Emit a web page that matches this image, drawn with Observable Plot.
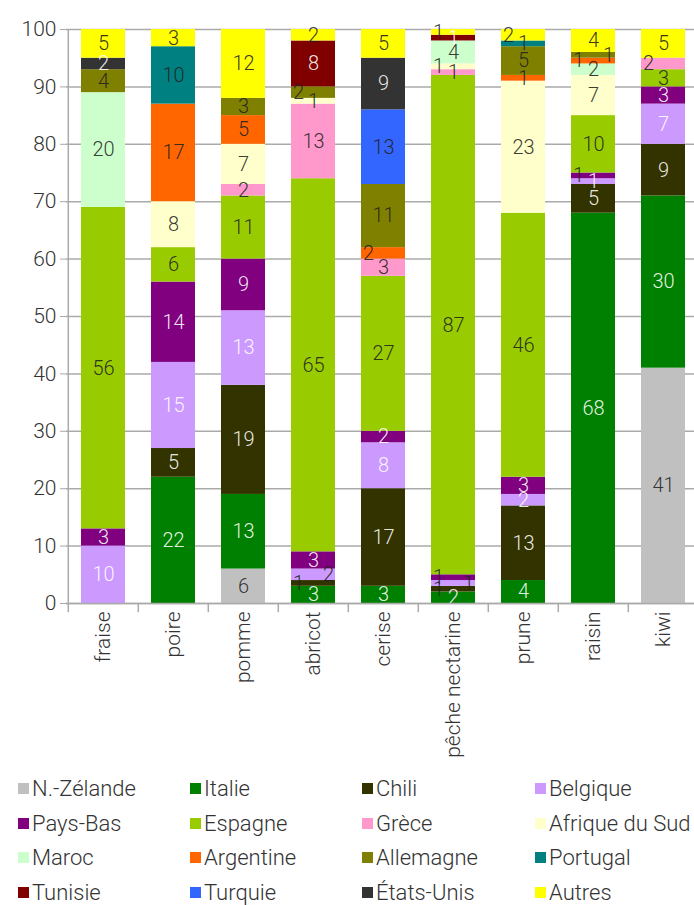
<!DOCTYPE html>
<html><head><meta charset="utf-8">
<script src="https://cdn.jsdelivr.net/npm/d3@7"></script>
<script src="https://cdn.jsdelivr.net/npm/@observablehq/plot@0.6"></script>
<style>
body{margin:0;background:#fff;font-family:Roboto,"DejaVu Sans",sans-serif;font-weight:300;overflow:hidden;}
#legend{position:relative;height:130px;}
.li{position:absolute;display:flex;align-items:center;font-size:22px;color:#333;white-space:nowrap;}
.sw{width:11px;height:11px;margin-right:3px;display:inline-block;}
</style></head>
<body><div id="chart"></div><div id="legend"></div>
<script>
const fruits = ["fraise","poire","pomme","abricot","cerise","pêche nectarine","prune","raisin","kiwi"];
const countries = ["N.-Zélande","Italie","Chili","Belgique","Pays-Bas","Espagne","Grèce","Afrique du Sud","Maroc","Argentine","Allemagne","Portugal","Tunisie","Turquie","États-Unis","Autres"];
const colors = ["#c0c0c0","#008000","#333300","#cc99ff","#800080","#99cc00","#ff99cc","#ffffcc","#ccffcc","#ff6600","#808000","#008080","#800000","#3366ff","#333333","#ffff00"];
const lightText = ["Italie","Chili","Belgique","Pays-Bas","Tunisie","États-Unis"];
// values per country, one entry per fruit (same order as fruits)
const nzelande   = [0,0,6,0,0,0,0,0,41];
const italie     = [0,22,13,3,3,2,4,68,30];
const chili      = [0,5,19,1,17,1,13,5,9];
const belgique   = [10,15,13,2,8,1,2,1,7];
const paysbas    = [3,14,9,3,2,1,3,1,3];
const espagne    = [56,6,11,65,27,87,46,10,3];
const grece      = [0,0,2,13,3,1,0,0,2];
const afriquesud = [0,8,7,1,0,1,23,7,0];
const maroc      = [20,0,0,0,0,4,0,2,0];
const argentine  = [0,17,5,0,2,0,1,1,0];
const allemagne  = [4,0,3,2,11,0,5,1,0];
const portugal   = [0,10,0,0,0,0,1,0,0];
const tunisie    = [0,0,0,8,0,1,0,0,0];
const turquie    = [0,0,0,0,13,0,0,0,0];
const etatsunis  = [2,0,0,0,9,0,0,0,0];
const autres     = [5,3,12,2,5,1,2,4,5];
const yTicks = [0,10,20,30,40,50,60,70,80,90,100];

const series = [nzelande,italie,chili,belgique,paysbas,espagne,grece,afriquesud,maroc,argentine,allemagne,portugal,tunisie,turquie,etatsunis,autres];
const rows = [];
fruits.forEach((f,i)=>{
  let prevSmall=false, side=1;
  countries.forEach((c,j)=>{
    const v=series[j][i];
    if(v>0){
      const small=v<=2;
      let shift=0;
      if(small && prevSmall){ side=-side; shift=side; } else if(small){ side=1; }
      rows.push({fruit:f,country:c,value:v,shift});
      prevSmall=v<=3;
    }
  });
});

const W=694, H=775, mL=66, mT=29, mB=172;
const bw=70.4;
const font='Roboto, "DejaVu Sans", sans-serif';
const txt=(sel)=>d=>sel(d)?String(d.value):"";

const chart = Plot.plot({
  width:W, height:H, marginLeft:mL, marginRight:0, marginTop:mT, marginBottom:mB,
  style:{fontFamily:font, fontWeight:300, fontSize:"20px", color:"#333", background:"#fff", overflow:"hidden"},
  x:{domain:fruits, range:[mL, mL+bw*fruits.length], paddingInner:0.37, paddingOuter:0.185, label:null},
  y:{domain:[0,100], label:null},
  color:{domain:countries, range:colors},
  marks:[
    Plot.gridY(yTicks,{stroke:"#aaaaaa", strokeOpacity:1, strokeWidth:1.5}),
    Plot.barY(rows,{x:"fruit", y:"value", fill:"country"}),
    Plot.text(rows, Plot.stackY({x:"fruit", y:"value", text:txt(d=>d.shift===0), fontSize:20,
      fill:d=>lightText.includes(d.country)?"#ffffff":"#222222", fillOpacity:0.9})),
    Plot.text(rows, Plot.stackY({x:"fruit", y:"value", text:txt(d=>d.shift>0), fontSize:20,
      dx:15, fill:"#222222", fillOpacity:0.9})),
    Plot.text(rows, Plot.stackY({x:"fruit", y:"value", text:txt(d=>d.shift<0), fontSize:20,
      dx:-15, fill:"#222222", fillOpacity:0.9})),
    Plot.ruleX([fruits[0]],{x:d=>d, dx:-bw/2, y1:0, y2:100, stroke:"#aaaaaa", strokeWidth:1.5}),
    Plot.ruleY([0],{stroke:"#aaaaaa", strokeWidth:1.5}),
    Plot.ruleX(fruits,{x:d=>d, dx:-bw/2, y1:0, y2:-1.6, stroke:"#aaaaaa", strokeWidth:1.5}),
    Plot.axisY(yTicks,{tickSize:6, tickPadding:4, fontSize:21, stroke:"#aaaaaa", fill:"#333"}),
    Plot.axisX({tickSize:0, tickRotate:-90, tickPadding:8, fontSize:21, fill:"#333", textAnchor:"end"})
  ]
});
document.getElementById("chart").appendChild(chart);

const lg=document.getElementById("legend");
const colX=[18,190,362,535];
countries.forEach((c,i)=>{
  const d=document.createElement("div");
  d.className="li";
  d.style.left=colX[i%4]+"px";
  d.style.top=(Math.floor(i/4)*34.5+1)+"px";
  d.innerHTML=`<span class="sw" style="background:${colors[i]}"></span>${c}`;
  lg.appendChild(d);
});
</script></body></html>
